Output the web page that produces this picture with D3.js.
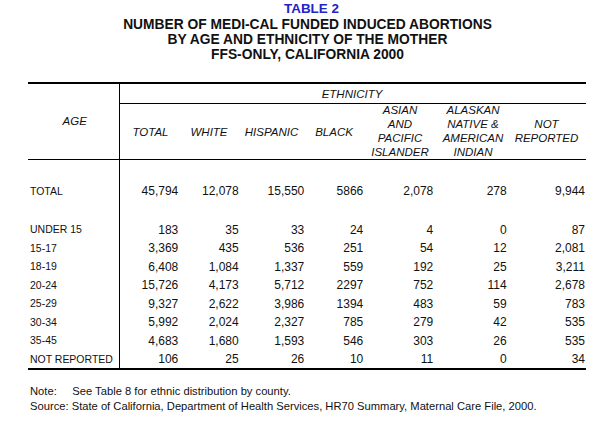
<!DOCTYPE html>
<html><head><meta charset="utf-8">
<script src="https://cdn.jsdelivr.net/npm/d3@7"></script>
<style>html,body{margin:0;padding:0;background:#fff;}svg{display:block;}</style>
</head><body>
<svg id="c" width="609" height="428"></svg>
<script>
const titleLines = ["TABLE 2","NUMBER OF MEDI-CAL FUNDED INDUCED ABORTIONS","BY AGE AND ETHNICITY OF THE MOTHER","FFS-ONLY, CALIFORNIA 2000"];
const ages = ["TOTAL","UNDER 15","15-17","18-19","20-24","25-29","30-34","35-45","NOT REPORTED"];
const columns = ["TOTAL","WHITE","HISPANIC","BLACK","ASIAN AND PACIFIC ISLANDER","ALASKAN NATIVE & AMERICAN INDIAN","NOT REPORTED"];
const total    = [45794,183,3369,6408,15726,9327,5992,4683,106];
const white    = [12078,35,435,1084,4173,2622,2024,1680,25];
const hispanic = [15550,33,536,1337,5712,3986,2327,1593,26];
const black    = [5866,24,251,559,2297,1394,785,546,10];
const asian    = [2078,4,54,192,752,483,279,303,11];
const alaskan  = [278,0,12,25,114,59,42,26,0];
const notRep   = [9944,87,2081,3211,2678,783,535,535,34];
const notes = ["Note:","See Table 8 for ethnic distribution by county.","Source: State of California, Department of Health Services, HR70 Summary, Maternal Care File, 2000."];

const svg = d3.select("#c");
const FONT = "'Liberation Sans', Arial, sans-serif";

// title
const titleY = d3.scaleLinear().domain([0,3]).range([8.5,54.2]);
svg.selectAll("text.title").data(titleLines).join("text")
  .attr("x", (d,i)=> i===0 ? 311.5 : 307.5)
  .attr("y", (d,i)=> titleY(i) + (i===0?13.4:13.8)*0.36)
  .attr("text-anchor","middle")
  .attr("font-family",FONT).attr("font-weight","bold")
  .attr("font-size",(d,i)=> i===0 ? 13.4 : 13.8)
  .attr("fill",(d,i)=> i===0 ? "#2323c8" : "#111")
  .text(d=>d);

// table frame
const L = 28, R = 586, VX = 119.5;
const lines = [
  {x1:L,x2:R,y1:83,y2:83,w:2},
  {x1:VX,x2:R,y1:103.5,y2:103.5,w:1},
  {x1:L,x2:R,y1:159.5,y2:159.5,w:1},
  {x1:L,x2:R,y1:369,y2:369,w:2},
  {x1:VX,x2:VX,y1:83,y2:369,w:1}
];
svg.selectAll("line.frame").data(lines).join("line")
  .attr("x1",d=>d.x1).attr("x2",d=>d.x2).attr("y1",d=>d.y1).attr("y2",d=>d.y2)
  .attr("stroke","#000").attr("stroke-width",d=>d.w);

// header
const hfs = 11.5;
function hText(x,y,t){
  svg.append("text").attr("x",x).attr("y",y+hfs*0.36).attr("text-anchor","middle")
    .attr("font-family",FONT).attr("font-style","italic").attr("font-size",hfs).attr("fill","#111").text(t);
}
hText(74.7,120.7,"AGE");
hText(352,94,"ETHNICITY");
const colRight = d3.scaleOrdinal().domain(columns).range([178.3,238.7,304.3,363.3,433.3,506.7,585]);
const colCenter = d3.scaleOrdinal().domain(columns).range([150.5,209,271.5,334,400,473,546.5]);
const headerLines = {
  "TOTAL":["TOTAL"],"WHITE":["WHITE"],"HISPANIC":["HISPANIC"],"BLACK":["BLACK"],
  "ASIAN AND PACIFIC ISLANDER":["ASIAN","AND","PACIFIC","ISLANDER"],
  "ALASKAN NATIVE & AMERICAN INDIAN":["ALASKAN","NATIVE &","AMERICAN","INDIAN"],
  "NOT REPORTED":["NOT","REPORTED"]
};
const hy = d3.scaleLinear().domain([0,3]).range([110,152.3]);
columns.forEach(c=>{
  const ls = headerLines[c];
  ls.forEach((t,i)=>{
    let y;
    if (ls.length===1) y = 131.7;
    else if (ls.length===2) y = hy(i+1)-0.5;
    else y = hy(i);
    hText(colCenter(c), y, t);
  });
});

// rows
const rowY = d3.scalePoint().domain(ages.slice(1)).range([229.3,358.7]);
const yOf = a => a==="TOTAL" ? 191 : rowY(a);
const lfs = 11.4, nfs = 12;
svg.append("g").attr("transform","translate(30,0) scale(0.92,1)")
  .selectAll("text.age").data(ages).join("text")
  .attr("x",0).attr("y",d=>yOf(d)+lfs*0.36)
  .attr("font-family",FONT).attr("font-size",lfs).attr("fill","#111")
  .text(d=>d);

const series = [total,white,hispanic,black,asian,alaskan,notRep];
const fmtComma = d3.format(",");
const fmtPlain = d3.format("d");
series.forEach((vals,ci)=>{
  const col = columns[ci];
  const f = col==="BLACK" ? fmtPlain : fmtComma;
  svg.selectAll("text.c"+ci).data(vals).join("text")
    .attr("x",colRight(col)).attr("y",(d,i)=>yOf(ages[i])+nfs*0.36)
    .attr("text-anchor","end")
    .attr("font-family",FONT).attr("font-size",nfs).attr("fill","#111")
    .text(d=>f(d));
});

// notes
const nf = 11.2;
svg.append("text").attr("x",30).attr("y",390.7+nf*0.36).attr("font-family",FONT).attr("font-size",nf).attr("fill","#111").text(notes[0]);
svg.append("text").attr("x",72.3).attr("y",390.7+nf*0.36).attr("font-family",FONT).attr("font-size",nf).attr("fill","#111").text(notes[1]);
svg.append("text").attr("x",30).attr("y",406+nf*0.36).attr("font-family",FONT).attr("font-size",nf).attr("fill","#111").text(notes[2]);
</script>
</body></html>
